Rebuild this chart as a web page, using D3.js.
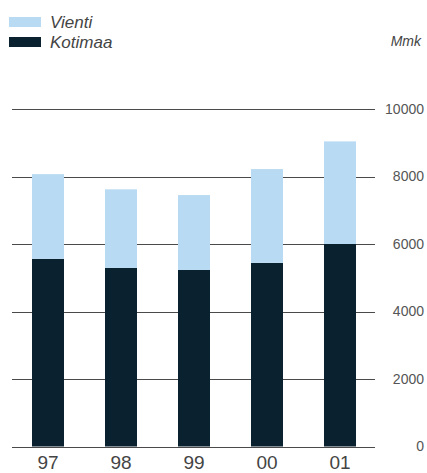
<!DOCTYPE html>
<html>
<head>
<meta charset="utf-8">
<script src="https://cdn.jsdelivr.net/npm/d3@7"></script>
<style>
  html, body { margin: 0; padding: 0; background: #fff; }
  svg { display: block; font-family: "Liberation Sans", Arial, Helvetica, sans-serif; }
</style>
</head>
<body>
<svg id="chart" width="427" height="473"></svg>
<script>
const categories = ["97", "98", "99", "00", "01"];
const kotimaa = [5560, 5290, 5230, 5440, 6000];
const vienti = [2510, 2330, 2220, 2780, 3040];
const yTicks = [0, 2000, 4000, 6000, 8000, 10000];
const seriesNames = ["Vienti", "Kotimaa"];
const seriesColors = ["#b8daf2", "#0a2230"];
const unitLabel = "Mmk";

const svg = d3.select("#chart");
const plotLeft = 12, plotRight = 375, plotTop = 109, plotBottom = 446.5;

const y = d3.scaleLinear().domain([0, 10000]).range([plotBottom, plotTop]);
const x = d3.scaleBand().domain(categories).range([32, 356]).paddingInner(41 / 73).paddingOuter(0);

// gridlines
svg.append("g").selectAll("line").data(yTicks).join("line")
  .attr("x1", plotLeft).attr("x2", plotRight)
  .attr("y1", d => Math.round(y(d)) + 0.5).attr("y2", d => Math.round(y(d)) + 0.5)
  .attr("stroke", "#4a4a4a").attr("stroke-width", 1);

// stacked data
const rows = categories.map((c, i) => ({ cat: c, Kotimaa: kotimaa[i], Vienti: vienti[i] }));
const stack = d3.stack().keys(["Kotimaa", "Vienti"])(rows);
const colorOf = { Kotimaa: seriesColors[1], Vienti: seriesColors[0] };

svg.append("g").selectAll("g").data(stack).join("g")
  .attr("fill", d => colorOf[d.key])
  .selectAll("rect").data(d => d).join("rect")
  .attr("x", d => x(d.data.cat))
  .attr("width", x.bandwidth())
  .attr("y", d => y(d[1]))
  .attr("height", d => y(d[0]) - y(d[1]));

// y tick labels (right)
svg.append("g").selectAll("text").data(yTicks).join("text")
  .attr("x", 424).attr("y", d => y(d) + 1)
  .attr("text-anchor", "end").attr("dominant-baseline", "middle")
  .attr("font-size", 14).attr("fill", "#555")
  .text(d => d);

// x labels
svg.append("g").selectAll("text").data(categories).join("text")
  .attr("x", d => x(d) + x.bandwidth() / 2).attr("y", 469)
  .attr("text-anchor", "middle")
  .attr("font-size", 19).attr("fill", "#444")
  .text(d => d);

// legend
const legend = svg.append("g");
seriesNames.forEach((name, i) => {
  legend.append("rect").attr("x", 9).attr("y", 17 + i * 20).attr("width", 32).attr("height", 10)
    .attr("fill", seriesColors[i]);
  legend.append("text").attr("x", 50).attr("y", 28 + i * 20)
    .attr("font-size", 17).attr("font-style", "italic").attr("fill", "#444")
    .text(name);
});

svg.append("text").attr("x", 421).attr("y", 46).attr("text-anchor", "end")
  .attr("font-size", 14).attr("font-style", "italic").attr("fill", "#444")
  .text(unitLabel);
</script>
</body>
</html>
